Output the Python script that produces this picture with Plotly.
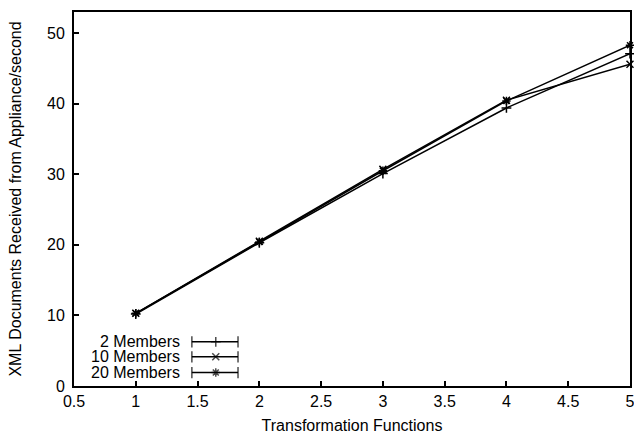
import plotly.graph_objects as go

functions = [1, 2, 3, 4, 5]
series_names = ["2 Members", "10 Members", "20 Members"]
members_2 = [10.2, 20.3, 30.1, 39.4, 47.1]
members_10 = [10.3, 20.5, 30.7, 40.5, 45.6]
members_20 = [10.3, 20.4, 30.5, 40.4, 48.3]
symbols = ["cross-thin", "x-thin", "asterisk"]

x_ticks = [0.5, 1, 1.5, 2, 2.5, 3, 3.5, 4, 4.5, 5]
x_tick_labels = ["0.5", "1", "1.5", "2", "2.5", "3", "3.5", "4", "4.5", "5"]
y_ticks = [0, 10, 20, 30, 40, 50]

fig = go.Figure()
for name, vals, sym in zip(series_names, [members_2, members_10, members_20], symbols):
    fig.add_trace(go.Scatter(
        x=functions, y=vals, mode="lines+markers", name=name,
        line=dict(color="black", width=1.5),
        marker=dict(symbol=sym, size=7, color="black", line=dict(color="black", width=1.5)),
        showlegend=False, cliponaxis=False,
    ))

# manual legend on an overlay axis (gnuplot-style: text left, sample right)
leg_y = [0.118, 0.078, 0.036]
for i, (name, sym) in enumerate(zip(series_names, symbols)):
    fig.add_trace(go.Scatter(
        x=[0.212, 0.255, 0.295], y=[leg_y[i]] * 3, mode="lines+markers",
        xaxis="x2", yaxis="y2", showlegend=False, hoverinfo="skip",
        line=dict(color="black", width=1.5),
        marker=dict(symbol=["line-ns", sym, "line-ns"], size=[8, 7, 8], color="black",
                    line=dict(color="black", width=1.5)),
    ))
    fig.add_annotation(x=0.194, y=leg_y[i], xref="x2", yref="y2", text=name,
                       showarrow=False, xanchor="right", yanchor="middle",
                       font=dict(size=16, color="black"))

axis_common = dict(showline=True, linecolor="black", linewidth=2, mirror=True,
                   ticks="inside", ticklen=5, tickcolor="black", tickwidth=1.5,
                   showgrid=False, zeroline=False, automargin=False,
                   ticklabeloverflow="allow",
                   tickfont=dict(size=16, color="black"))
fig.update_layout(
    width=634, height=436,
    margin=dict(l=74, r=4, t=12, b=50, autoexpand=False),
    paper_bgcolor="white", plot_bgcolor="white",
    font=dict(family="Liberation Sans, Arial, sans-serif", size=16, color="black"),
    xaxis=dict(range=[0.5, 5], tickvals=x_ticks, ticktext=x_tick_labels,
               title=dict(text="Transformation Functions", font=dict(size=16), standoff=11),
               **axis_common),
    yaxis=dict(range=[0, 53], tickvals=y_ticks, ticklabelstandoff=4,
               title=dict(text="XML Documents Received from Appliance/second", font=dict(size=16), standoff=21),
               **axis_common),
    xaxis2=dict(overlaying="x", range=[0, 1], visible=False, fixedrange=True, automargin=False),
    yaxis2=dict(overlaying="y", range=[0, 1], visible=False, fixedrange=True, automargin=False),
    showlegend=False,
)

fig.write_html(
    "out.html",
    config={"displayModeBar": False},
    post_script=(
        "document.body.style.margin='0';"
        "document.body.style.overflow='hidden';"
        "document.documentElement.style.overflow='hidden';"
    ),
)
